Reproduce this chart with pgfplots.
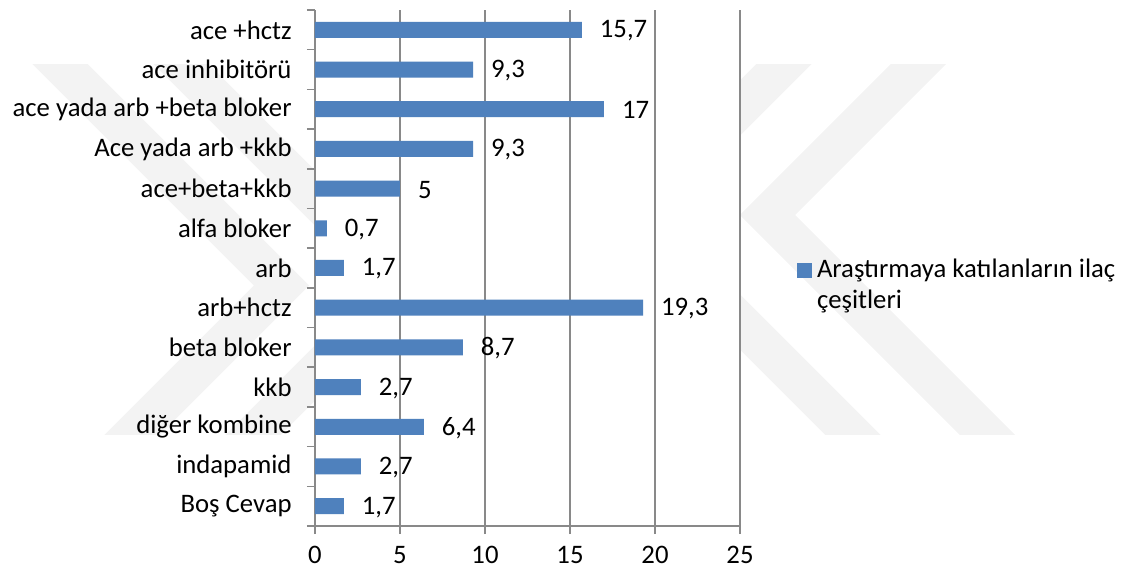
\documentclass[border=0pt]{standalone}
\usepackage{fontspec}
\setmainfont{Carlito}
\usepackage{pgfplots}
\pgfplotsset{compat=1.18}
\definecolor{barblue}{HTML}{4F81BD}
\definecolor{gridgray}{HTML}{898989}
\definecolor{wm}{HTML}{F3F3F3}
\begin{document}
\begin{tikzpicture}[font=\fontsize{13.4}{16}\selectfont]
\useasboundingbox (-157.5bp,-25.5bp) rectangle (405.5bp,263bp);
% faint background watermark
\begin{scope}
\clip (-160bp,45.5bp) rectangle (410bp,230.5bp);
\draw[wm, line width=19.5bp, miter limit=10] (321.25bp,250.5bp) -- (226.25bp,155.5bp) -- (356.25bp,25.5bp);
\draw[wm, line width=19.5bp, miter limit=10] (254bp,250.5bp) -- (159bp,155.5bp) -- (289bp,25.5bp);
\draw[wm, line width=19.5bp, miter limit=10] (-147bp,250.5bp) -- (-16.75bp,120.25bp) -- (-111.5bp,25.5bp);
\draw[wm, line width=19.5bp, miter limit=10] (-86.5bp,250.5bp) -- (43.75bp,120.25bp) -- (-51bp,25.5bp);
\end{scope}
\begin{axis}[
  at={(0,0)}, anchor=south west,
  scale only axis, width=212.5bp, height=258bp,
  axis background/.style={fill=white},
  xbar, bar width=8bp,
  xmin=0, xmax=25, ymin=-0.5, ymax=12.5,
  xtick={0,5,...,25},
  ytick={0,...,12},
  yticklabels={Boş Cevap, indapamid, diğer kombine, kkb, beta bloker, arb+hctz, arb, alfa bloker, ace+beta+kkb, Ace yada arb +kkb, ace yada arb +beta bloker, ace inhibitörü, ace +hctz},
  minor ytick={-0.5,0.5,...,12.5},
  axis lines*=left,
  axis line style={gridgray, line width=0.75bp, -},
  xmajorgrids, major grid style={gridgray, line width=0.75bp},
  tick style={gridgray, line width=0.75bp},
  tick align=outside,
  major tick length=4bp, minor tick length=4bp,
  every major y tick/.append style={draw=none},
  yticklabel style={xshift=-4.2bp},
  xticklabel style={yshift=-2.5bp},
  /pgf/number format/assume math mode=true,
  nodes near coords,
  point meta=explicit symbolic,
  nodes near coords style={anchor=west, xshift=5.5bp, yshift=-0.5bp, text=black},
]
\addplot[fill=barblue, draw=none] coordinates {
  (1.7,0) [1,7]
  (2.7,1) [2,7]
  (6.4,2) [6,4]
  (2.7,3) [2,7]
  (8.7,4) [8,7]
  (19.3,5) [19,3]
  (1.7,6) [1,7]
  (0.7,7) [0,7]
  (5,8) [5]
  (9.3,9) [9,3]
  (17,10) [17]
  (9.3,11) [9,3]
  (15.7,12) [15,7]
};
\end{axis}
\fill[barblue] (240.8bp,124.2bp) rectangle (248.3bp,131.7bp);
\node[anchor=base west, inner sep=0pt] at (250.8bp,124.3bp) {Araştırmaya katılanların ilaç};
\node[anchor=base west, inner sep=0pt] at (250.8bp,108.5bp) {çeşitleri};
\end{tikzpicture}
\end{document}
